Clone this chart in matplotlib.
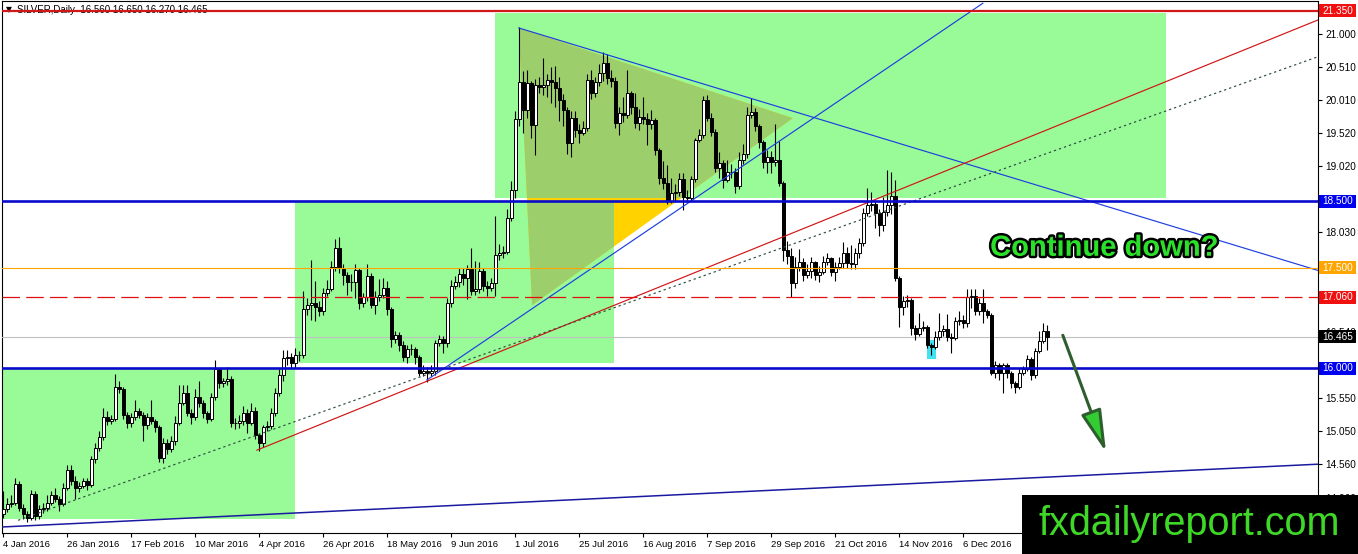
import matplotlib
matplotlib.use("Agg")
import matplotlib.pyplot as plt
import matplotlib.transforms as mtransforms
import matplotlib.patheffects as pe
from matplotlib.patches import Rectangle, Polygon, FancyArrowPatch

# ---------------- data (SILVER, Daily) ----------------
first_open = 13.82
closes = [
    13.89, 13.97, 13.98, 14.27, 13.91, 13.82, 13.76, 14.12, 13.79, 13.89,
    13.90, 13.98, 14.10, 14.04, 13.97, 14.20, 14.48, 14.31, 14.20, 14.24,
    14.31, 14.25, 14.64, 14.80, 14.96, 15.27, 15.21, 15.24, 15.72, 15.69,
    15.29, 15.18, 15.26, 15.36, 15.30, 15.14, 15.27, 15.21, 15.12, 14.66,
    14.88, 14.79, 14.91, 15.18, 15.48, 15.62, 15.33, 15.26, 15.56, 15.47,
    15.32, 15.24, 15.57, 15.99, 15.77, 15.80, 15.84, 15.18, 15.17, 15.21,
    15.33, 15.18, 15.36, 14.99, 14.87, 15.11, 15.13, 15.33, 15.63, 15.89,
    16.15, 16.16, 16.08, 16.20, 16.19, 16.89, 16.94, 16.97, 16.91, 16.86,
    17.12, 17.19, 17.51, 17.79, 17.49, 17.39, 17.28, 17.28, 17.46, 16.98,
    17.06, 17.37, 16.94, 17.06, 17.10, 17.20, 16.88, 16.44, 16.50, 16.34,
    16.16, 16.28, 16.29, 16.17, 15.93, 15.95, 15.93, 15.96, 16.37, 16.43,
    16.37, 16.98, 17.23, 17.29, 17.41, 17.34, 17.48, 17.15, 17.19, 17.45,
    17.23, 17.20, 17.27, 17.69, 17.72, 17.73, 18.25, 18.66, 19.73, 20.28,
    19.86, 20.27, 19.64, 20.24, 20.21, 20.24, 20.31, 20.28, 20.19, 20.01,
    19.86, 19.37, 19.74, 19.56, 19.52, 19.59, 20.31, 20.12, 20.28, 20.42,
    20.57, 20.34, 20.30, 19.67, 19.82, 19.79, 20.12, 19.91, 19.67, 19.76,
    19.73, 19.65, 19.71, 19.26, 18.85, 18.77, 18.50, 18.62, 18.63, 18.83,
    18.56, 18.55, 18.83, 19.41, 19.49, 20.01, 19.74, 19.53, 19.00, 19.07,
    18.81, 18.93, 18.94, 18.73, 19.12, 19.21, 19.79, 19.83, 19.62, 19.38,
    19.08, 19.16, 19.08, 19.12, 18.77, 17.76, 17.67, 17.27, 17.51, 17.58,
    17.39, 17.45, 17.58, 17.39, 17.43, 17.58, 17.64, 17.43, 17.51, 17.57,
    17.72, 17.57, 17.55, 17.72, 17.87, 18.32, 18.44, 18.46, 18.32, 18.14,
    18.33, 18.44, 18.57, 17.34, 16.91, 17.01, 17.02, 16.60, 16.51, 16.60,
    16.61, 16.34, 16.31, 16.46, 16.56, 16.58, 16.46, 16.45, 16.71, 16.72,
    16.67, 17.07, 17.08, 16.86, 16.97, 16.86, 16.79, 15.93, 16.05, 15.92,
    16.05, 15.92, 15.77, 15.71, 15.93, 15.98, 16.13, 15.89, 16.26, 16.41,
    16.56, 16.465,
]
highs = [
    14.16, 14.05, 14.10, 14.36, 14.31, 13.97, 13.86, 14.17, 14.16, 13.95,
    13.98, 14.10, 14.16, 14.20, 14.08, 14.28, 14.55, 14.55, 14.38, 14.30,
    14.36, 14.35, 14.68, 14.87, 15.05, 15.40, 15.35, 15.30, 15.91, 15.80,
    15.72, 15.34, 15.33, 15.52, 15.40, 15.34, 15.33, 15.52, 15.24, 15.15,
    14.95, 14.93, 14.98, 15.28, 15.75, 15.75, 15.75, 15.38, 15.68, 15.80,
    15.52, 15.36, 15.62, 16.12, 16.00, 15.85, 16.02, 15.88, 15.25, 15.30,
    15.43, 15.38, 15.48, 15.42, 15.02, 15.14, 15.20, 15.40, 15.70, 15.98,
    16.27, 16.27, 16.22, 16.30, 16.25, 17.15, 17.05, 17.62, 17.30, 17.00,
    17.20, 17.32, 17.60, 17.93, 17.96, 17.55, 17.44, 17.40, 17.55, 17.50,
    17.12, 17.56, 17.42, 17.15, 17.33, 17.35, 17.30, 16.92, 16.56, 16.54,
    16.40, 16.34, 16.36, 16.32, 16.20, 16.04, 16.02, 16.05, 16.42, 16.50,
    16.48, 17.05, 17.32, 17.38, 17.50, 17.50, 17.54, 17.80, 17.60, 17.58,
    17.50, 17.30, 17.35, 18.28, 17.85, 17.82, 18.38, 18.80, 19.85, 21.10,
    20.45, 20.46, 20.30, 20.32, 20.35, 20.64, 20.40, 20.50, 20.52, 20.35,
    20.10, 19.90, 19.85, 19.85, 19.65, 19.70, 20.40, 20.46, 20.35, 20.55,
    20.73, 20.70, 20.46, 20.35, 19.90, 20.05, 20.46, 20.15, 20.12, 19.88,
    20.05, 19.82, 19.86, 19.75, 19.30, 19.10, 19.04, 18.84, 18.75, 18.92,
    18.92, 18.66, 18.88, 19.45, 19.58, 20.07, 20.08, 19.82, 19.58, 19.23,
    19.12, 19.12, 19.05, 19.00, 19.23, 19.36, 19.90, 20.04, 19.89, 19.66,
    19.42, 19.26, 19.25, 19.65, 19.40, 18.80, 17.90, 17.79, 17.66, 17.78,
    17.64, 17.55, 17.66, 17.60, 17.52, 17.68, 17.72, 17.66, 17.58, 17.66,
    17.88, 17.81, 17.84, 17.80, 17.95, 18.40, 18.70, 18.63, 18.52, 18.38,
    18.56, 18.96, 18.93, 18.81, 17.38, 17.08, 17.10, 17.05, 16.65, 16.83,
    16.71, 16.65, 16.38, 16.55, 16.83, 16.65, 16.81, 16.52, 16.77, 16.86,
    16.80, 17.19, 17.18, 17.19, 17.05, 17.18, 16.88, 16.82, 16.10, 16.08,
    16.08, 16.08, 15.96, 15.80, 16.00, 16.03, 16.20, 16.16, 16.30, 16.55,
    16.67, 16.65,
]
lows = [
    13.76, 13.84, 13.92, 13.95, 13.86, 13.74, 13.70, 13.72, 13.72, 13.74,
    13.83, 13.86, 13.95, 14.00, 13.86, 13.94, 14.17, 14.25, 14.04, 14.15,
    14.20, 14.18, 14.22, 14.58, 14.76, 14.92, 15.15, 15.16, 15.20, 15.62,
    15.24, 15.10, 15.12, 15.22, 15.25, 14.91, 15.08, 15.16, 15.04, 14.60,
    14.58, 14.72, 14.74, 14.85, 15.14, 15.44, 15.28, 15.16, 15.22, 15.42,
    15.25, 15.18, 15.20, 15.52, 15.70, 15.72, 15.75, 15.12, 15.08, 15.10,
    15.15, 15.02, 15.14, 14.94, 14.76, 14.82, 15.05, 15.08, 15.28, 15.58,
    15.80, 16.05, 16.00, 16.00, 16.10, 16.15, 16.80, 16.72, 16.70, 16.78,
    16.80, 17.08, 17.15, 17.45, 17.42, 17.25, 17.10, 17.15, 17.05, 16.88,
    16.92, 17.00, 16.90, 16.81, 17.00, 17.05, 16.80, 16.31, 16.38, 16.25,
    16.10, 16.08, 16.20, 16.06, 15.88, 15.88, 15.79, 15.88, 15.90, 16.33,
    16.22, 16.32, 16.92, 17.18, 17.22, 17.25, 17.04, 17.10, 17.10, 17.13,
    17.15, 17.08, 17.15, 17.08, 17.62, 17.65, 17.70, 18.20, 18.55, 19.62,
    19.52, 19.75, 19.44, 19.19, 20.12, 20.09, 20.05, 19.97, 19.90, 19.70,
    19.62, 19.21, 19.16, 19.46, 19.37, 19.49, 19.55, 20.02, 20.05, 20.22,
    20.30, 20.25, 20.20, 19.60, 19.49, 19.68, 19.75, 19.80, 19.60, 19.56,
    19.65, 19.34, 19.58, 19.19, 18.75, 18.68, 18.45, 18.47, 18.48, 18.58,
    18.37, 18.48, 18.50, 18.78, 19.38, 19.45, 19.70, 19.48, 18.93, 18.85,
    18.69, 18.78, 18.85, 18.62, 18.68, 19.05, 19.15, 19.75, 19.55, 19.30,
    19.00, 18.92, 18.92, 19.02, 18.72, 17.60, 17.55, 17.06, 17.20, 17.45,
    17.30, 17.34, 17.35, 17.31, 17.28, 17.40, 17.54, 17.37, 17.30, 17.48,
    17.50, 17.50, 17.48, 17.48, 17.65, 17.82, 18.28, 18.35, 18.10, 17.98,
    18.05, 18.28, 18.30, 17.30, 16.62, 16.79, 16.92, 16.50, 16.42, 16.48,
    16.55, 16.30, 16.20, 16.28, 16.42, 16.48, 16.40, 16.22, 16.42, 16.65,
    16.60, 16.62, 16.90, 16.80, 16.80, 16.68, 16.75, 15.90, 15.85, 15.82,
    15.62, 15.85, 15.70, 15.63, 15.68, 15.90, 15.95, 15.82, 15.85, 16.22,
    16.38, 16.27,
]
date_labels = ["4 Jan 2016", "26 Jan 2016", "17 Feb 2016", "10 Mar 2016", "4 Apr 2016",
               "26 Apr 2016", "18 May 2016", "9 Jun 2016", "1 Jul 2016", "25 Jul 2016",
               "16 Aug 2016", "7 Sep 2016", "29 Sep 2016", "21 Oct 2016", "14 Nov 2016",
               "6 Dec 2016"]
date_label_bars = [0, 16, 32, 48, 64, 80, 96, 112, 128, 144, 160, 176, 192, 208, 224, 240]
price_ticks = [21.000, 20.510, 20.010, 19.520, 19.020, 18.530, 18.030, 17.540, 17.050,
               16.540, 16.050, 15.550, 15.050, 14.560, 14.060]
# tick labels fully covered by the level boxes in the reference
hidden_ticks = [18.530, 17.540, 17.050, 16.050]
level_prices = [21.35, 18.50, 17.50, 17.06, 16.00]
# zones (bar start, bar end, price low, price high)
zones = [(-1.0, 72.9, 13.74, 16.00), (72.9, 152.7, 16.07, 18.50), (122.9, 290.7, 18.54, 21.31)]
triangle = [(128.9, 21.09), (197.4, 19.74), (132.2, 16.94)]
blue_up = [(105.9, 15.82), (244.9, 21.46)]
blue_down = [(128.9, 21.09), (328.7, 17.46)]
red_trend = [(63.4, 14.77), (328.7, 21.21)]
dotted_trend = [(3.7, 13.72), (328.7, 20.66)]
bottom_trend = [(-0.3, 13.62), (328.7, 14.56)]
arrow_pts = [(264.9, 16.49), (275.7, 14.74)]
highlight = (230.9, 233.2, 16.13, 16.42)

# ---------------- figure ----------------
W, H = 1358, 554
PXU = 66.8  # pixels per price unit (for sizing label boxes)
fig = plt.figure(figsize=(W / 100, H / 100), dpi=100)
fig.patch.set_facecolor("white")
ax = fig.add_axes([2 / W, 21 / H, 1316 / W, 532 / H])
ax.set_facecolor("white")
ax.set_xlim(-0.325, 328.7)
ax.set_ylim(13.530, 21.494)
for s in ax.spines.values():
    s.set_linewidth(0.8)
    s.set_color("black")

LIGHT_GREEN = "#98FB98"
zone_patches = []
for (x0, x1, y0, y1) in zones:
    r = Rectangle((x0, y0), x1 - x0, y1 - y0, facecolor=LIGHT_GREEN, edgecolor="none", zorder=1)
    ax.add_patch(r)
    zone_patches.append(r)

# triangle (gold over white, olive where it overlaps green zones)
ax.add_patch(Polygon(triangle, closed=True, facecolor="#FFD200", edgecolor="none", zorder=1.5))
for zp in zone_patches[1:]:
    tp = Polygon(triangle, closed=True, facecolor="#9CCF6C", edgecolor="none", zorder=1.6)
    ax.add_patch(tp)
    tp.set_clip_path(zp)

# highlight box
hx0, hx1, hy0, hy1 = highlight
ax.add_patch(Rectangle((hx0, hy0), hx1 - hx0, hy1 - hy0, facecolor="#3FE3F2", edgecolor="none", zorder=2.5))

# candles
n = len(closes)
opens = [first_open] + closes[:-1]
xs = list(range(n))
hi = [max(h, o, c) for h, o, c in zip(highs, opens, closes)]
lo = [min(l, o, c) for l, o, c in zip(lows, opens, closes)]
ax.vlines(xs, lo, hi, colors="black", linewidth=0.8, zorder=3)
body_h = [c - o for o, c in zip(opens, closes)]
body_col = ["white" if c >= o else "black" for o, c in zip(opens, closes)]
ax.bar(xs, body_h, bottom=opens, width=0.74, color=body_col, edgecolor="black",
       linewidth=0.7, zorder=4)

# trend lines
def seg(pts, **kw):
    (xa, ya), (xb, yb) = pts
    ax.plot([xa, xb], [ya, yb], **kw)

seg(blue_up, color="#1F3FE0", lw=0.85, zorder=5.5)
seg(blue_down, color="#1F3FE0", lw=0.85, zorder=5.5)
seg(red_trend, color="#D01515", lw=0.85, zorder=5.5)
seg(dotted_trend, color="#2F4F3F", lw=0.85, ls=(0, (2, 2.5)), zorder=5.5)
seg(bottom_trend, color="#1A1AA0", lw=1.1, zorder=5.5)

# horizontal levels
ax.axhline(level_prices[0], color="#D01818", lw=1.6, zorder=6)
ax.axhline(level_prices[1], color="#0A0ACD", lw=1.9, zorder=6)
ax.axhline(level_prices[2], color="#FFA500", lw=0.8, zorder=6)
ax.axhline(level_prices[3], color="#E01010", lw=0.9, ls=(0, (14, 5)), zorder=6)
ax.axhline(closes[-1], color="#C0C0C0", lw=0.8, zorder=2.8)
ax.axhline(level_prices[4], color="#0A0ACD", lw=1.9, zorder=6)

# axes ticks / labels
ax.yaxis.tick_right()
ax.set_yticks(price_ticks)
ax.set_yticklabels(["" if v in hidden_ticks else f"{v:.3f}" for v in price_ticks])
ax.set_xticks(date_label_bars)
ax.set_xticklabels(date_labels, ha="left")
ax.tick_params(axis="y", direction="out", length=3, width=0.8, pad=2, labelsize=7.2,
               colors="black")
ax.tick_params(axis="x", direction="out", length=3, width=0.8, pad=2, labelsize=6.8,
               colors="black")
for lab in ax.get_xticklabels() + ax.get_yticklabels():
    lab.set_family(["Liberation Sans", "DejaVu Sans"])

# right-side price boxes
trans = mtransforms.blended_transform_factory(ax.transAxes, ax.transData)
def price_box(p, fc, tc="white"):
    bw = 37 / 1316
    bh = 13 / PXU
    ax.add_patch(Rectangle((1.0008, p - bh / 2), bw, bh, transform=trans, facecolor=fc,
                           edgecolor="none", clip_on=False, zorder=20))
    ax.text(1.0008 + bw / 2, p, f"{p:.3f}", transform=trans, ha="center", va="center",
            color=tc, fontsize=7.2, zorder=21, clip_on=False,
            family=["Liberation Sans", "DejaVu Sans"])

price_box(level_prices[0], "#F01010")
price_box(level_prices[1], "#0000F0")
price_box(level_prices[2], "#FFA500")
price_box(level_prices[3], "#F01010")
price_box(closes[-1], "#000000")
price_box(level_prices[4], "#0000F0")

# header
ax.text(6 / W, 1 - 10 / H, "▼", transform=fig.transFigure, fontsize=5.5, va="center",
        ha="left", color="black", family="DejaVu Sans", zorder=5)
ax.text(17 / W, 1 - 10 / H,
        f"SILVER,Daily  {opens[-1]:.3f} {hi[-1]:.3f} {lo[-1]:.3f} {closes[-1]:.3f}",
        transform=fig.transFigure, fontsize=7, va="center", ha="left", color="black",
        family=["Liberation Sans", "DejaVu Sans"], zorder=5)

# annotation text
ax.text(275.2, 17.68, "Continue down?", ha="center", va="baseline", fontsize=21,
        fontweight="bold", color="#2BE02B", family=["Liberation Sans", "DejaVu Sans"],
        zorder=8, path_effects=[pe.withStroke(linewidth=3.5, foreground="black")])

# arrow
arr = FancyArrowPatch(arrow_pts[0], arrow_pts[1],
                      arrowstyle="-|>,head_length=1.3,head_width=0.32", mutation_scale=20,
                      linewidth=2.2, edgecolor="#2E5E2E", facecolor="#33CC33", zorder=8,
                      shrinkA=0, shrinkB=0)
ax.add_patch(arr)

# watermark
fig.add_artist(Rectangle((1022 / W, 0), 336 / W, 59 / H, transform=fig.transFigure,
                         facecolor="black", edgecolor="none", zorder=10))
fig.text(1189 / W, 19 / H, "fxdailyreport.com", ha="center", va="baseline", fontsize=28.5,
         color="#40D828", family=["Liberation Sans", "DejaVu Sans"], zorder=11)

fig.savefig("out.png", dpi=100, facecolor="white")
